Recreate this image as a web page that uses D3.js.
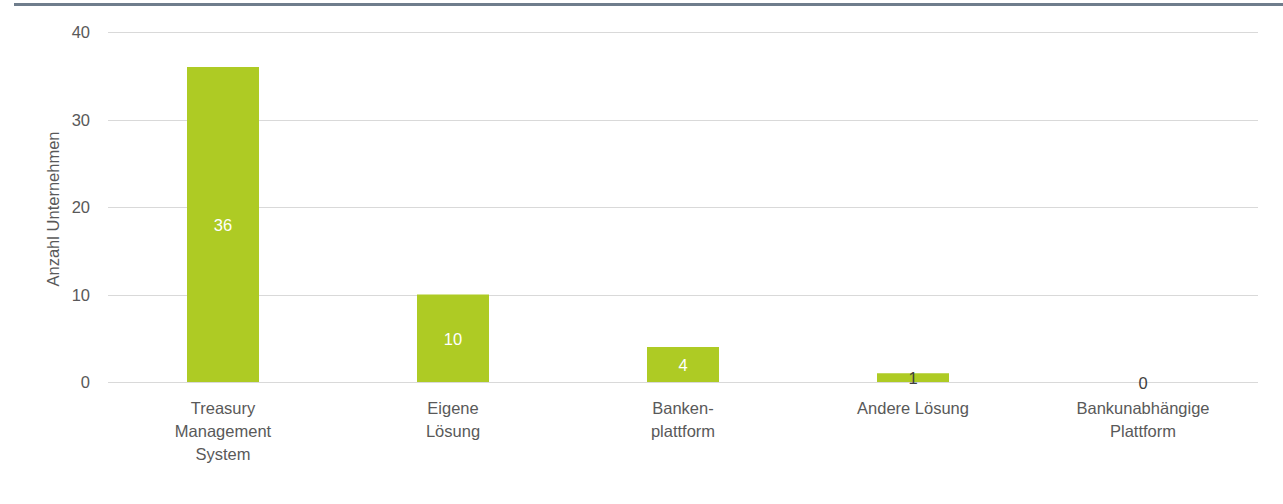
<!DOCTYPE html>
<html>
<head>
<meta charset="utf-8">
<script src="https://cdn.jsdelivr.net/npm/d3@7"></script>
<style>
  html, body { margin: 0; padding: 0; background: #ffffff; }
  svg text { font-family: "Liberation Sans", "Noto Sans", sans-serif; }
</style>
</head>
<body>
<svg id="chart" width="1283" height="504"></svg>
<script>
// Anzahl Unternehmen je eingesetzter Lösung
const categories = [
  ["Treasury", "Management", "System"],
  ["Eigene", "Lösung"],
  ["Banken-", "plattform"],
  ["Andere Lösung"],
  ["Bankunabhängige", "Plattform"]
];
const values = [36, 10, 4, 1, 0];
const yTicks = [0, 10, 20, 30, 40];
const yTitle = "Anzahl Unternehmen";

const svg = d3.select("#chart");
const margin = { left: 108, right: 1258, top: 32, bottom: 382 };
const fs = 16.5;

const keys = categories.map((c, i) => i);
const x = d3.scaleBand().domain(keys).range([margin.left, margin.right]).paddingInner(0.687).paddingOuter(0.3435);
const y = d3.scaleLinear().domain([0, 40]).range([margin.bottom, margin.top]);

// Top rule
svg.append("rect").attr("x", 14).attr("y", 3).attr("width", 1269).attr("height", 3).attr("fill", "#6f7d8c");

// Gridlines
svg.append("g").selectAll("line").data(yTicks).join("line")
  .attr("x1", margin.left).attr("x2", margin.right)
  .attr("y1", d => Math.round(y(d)) + 0.5).attr("y2", d => Math.round(y(d)) + 0.5)
  .attr("stroke", "#d9d9d9").attr("stroke-width", 1);

// Y axis tick labels
const yAxis = d3.axisLeft(y).tickValues(yTicks).tickSize(0).tickPadding(0);
const yg = svg.append("g").attr("transform", `translate(90,0)`).call(yAxis);
yg.select(".domain").remove();
yg.selectAll("text").attr("font-size", fs).attr("fill", "#595959").attr("dy", "0.35em");

// Y axis title
svg.append("text")
  .attr("transform", `translate(59,${(margin.top + margin.bottom) / 2 + 2}) rotate(-90)`)
  .attr("text-anchor", "middle").attr("font-size", fs).attr("fill", "#595959")
  .text(yTitle);

// Bars
svg.append("g").selectAll("rect").data(values).join("rect")
  .attr("x", (d, i) => x(i)).attr("width", x.bandwidth())
  .attr("y", d => y(d)).attr("height", d => y(0) - y(d))
  .attr("fill", "#aecb24");

// Value labels at bar centres
svg.append("g").selectAll("text").data(values).join("text")
  .attr("x", (d, i) => x(i) + x.bandwidth() / 2)
  .attr("y", d => (y(d) + y(0)) / 2 + 1)
  .attr("dy", "0.35em")
  .attr("text-anchor", "middle").attr("font-size", fs)
  .attr("fill", d => (y(0) - y(d)) > 20 ? "#ffffff" : "#404040")
  .text(d => d);

// Category labels
const xl = svg.append("g").selectAll("text").data(categories).join("text")
  .attr("text-anchor", "middle").attr("font-size", fs).attr("fill", "#595959")
  .attr("x", (d, i) => x(i) + x.bandwidth() / 2)
  .attr("y", 414);
xl.selectAll("tspan").data(d => d).join("tspan")
  .attr("x", function () { return d3.select(this.parentNode).attr("x"); })
  .attr("dy", (d, i) => i === 0 ? 0 : 23)
  .text(d => d);
</script>
</body>
</html>
